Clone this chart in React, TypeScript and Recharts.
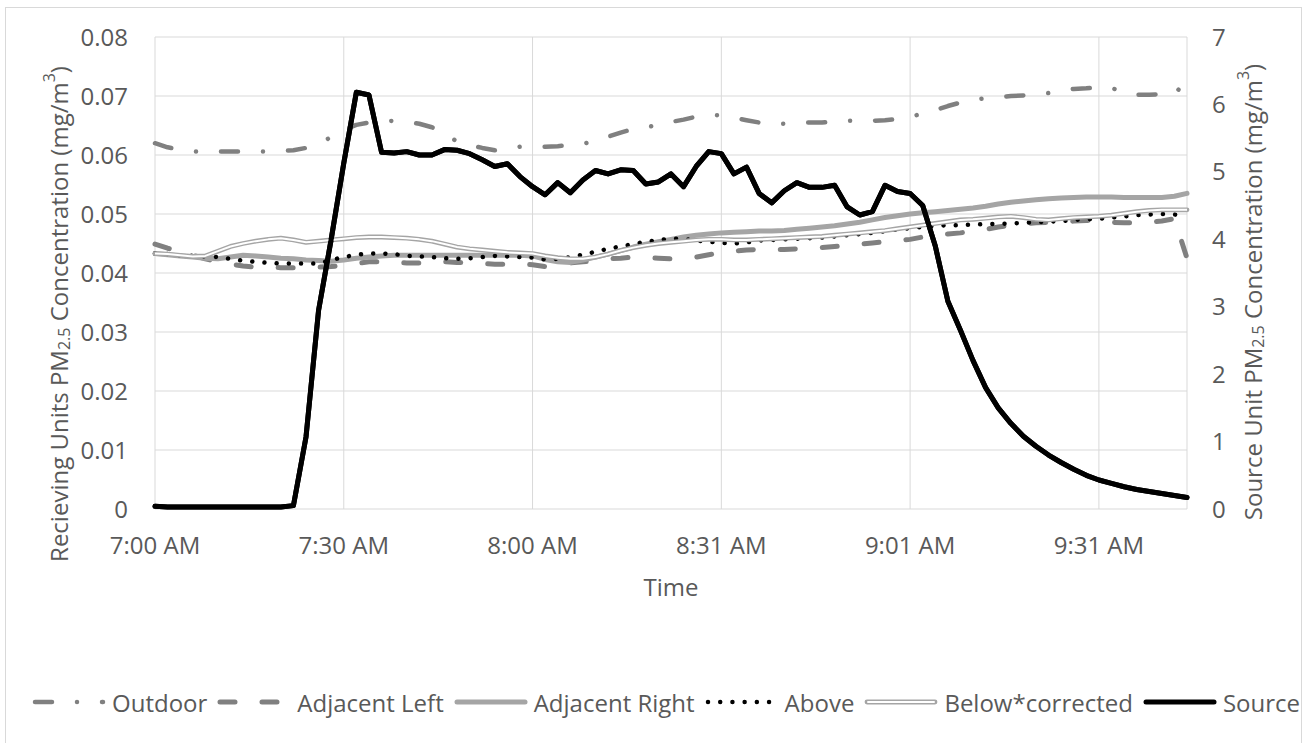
import React from 'react';
import { ComposedChart, Line, XAxis, YAxis, CartesianGrid } from 'recharts';

const FONT = '"Open Sans", "Noto Sans", sans-serif';
const TEXT = '#595959';
const GRID = '#D9D9D9';

// x axis: sample index (about 2 min apart), labels every 15 samples
const tickIndex = [0, 15, 30, 45, 60, 75];
const tickLabels = ['7:00 AM', '7:30 AM', '8:00 AM', '8:31 AM', '9:01 AM', '9:31 AM'];
const leftTicks = [0, 0.01, 0.02, 0.03, 0.04, 0.05, 0.06, 0.07, 0.08];
const rightTicks = [0, 1, 2, 3, 4, 5, 6, 7];

// receiving units, mg/m3 (left axis)
const outdoor = [
  0.062, 0.0613, 0.0609, 0.0606, 0.0605, 0.0606, 0.0606, 0.0606, 0.0606, 0.0606,
  0.0607, 0.0608, 0.0612, 0.062, 0.063, 0.0643, 0.0651, 0.0655, 0.0657, 0.0658,
  0.0656, 0.0653, 0.0647, 0.0636, 0.0623, 0.0617, 0.0612, 0.0608, 0.0611, 0.0614,
  0.0614, 0.0614, 0.0615, 0.0617, 0.0619, 0.0624, 0.0631, 0.0638, 0.0644, 0.0647,
  0.0651, 0.0656, 0.066, 0.0665, 0.0668, 0.0667, 0.0663, 0.0659, 0.0655, 0.0652,
  0.0653, 0.0655, 0.0655, 0.0655, 0.0657, 0.0658, 0.0658, 0.0658, 0.0659, 0.0661,
  0.0665, 0.067, 0.0676, 0.0683, 0.0689, 0.0694, 0.0696, 0.0698, 0.07, 0.0701,
  0.0702, 0.0705, 0.071, 0.0712, 0.0713, 0.0715, 0.0714, 0.0705, 0.0702, 0.0702,
  0.0703, 0.0703, 0.0727,
];
const adjacentLeft = [
  0.0449, 0.0442, 0.0436, 0.043, 0.0424, 0.0419, 0.0415, 0.0412, 0.041, 0.041,
  0.0409, 0.0409, 0.041, 0.041, 0.0411, 0.0413, 0.0416, 0.0419, 0.0419, 0.0418,
  0.0417, 0.0417, 0.0418, 0.0419, 0.0418, 0.0417, 0.0416, 0.0415, 0.0415, 0.0415,
  0.0414, 0.0411, 0.0413, 0.0417, 0.0419, 0.0421, 0.0424, 0.0425, 0.0427, 0.0426,
  0.0425, 0.0424, 0.0425, 0.0427, 0.0431, 0.0434, 0.0437, 0.0439, 0.044, 0.044,
  0.044, 0.0441, 0.0442, 0.0443, 0.0445, 0.0447, 0.0449, 0.0451, 0.0453, 0.0455,
  0.0457, 0.0461, 0.0464, 0.0466, 0.0468, 0.0471, 0.0474, 0.0478, 0.0481, 0.0483,
  0.0485, 0.0486, 0.0487, 0.0488, 0.0489, 0.0489, 0.0486, 0.0485, 0.0485, 0.0486,
  0.0488, 0.0492, 0.0425,
];
const adjacentRight = [
  0.0433, 0.0431, 0.0429, 0.0427, 0.0425, 0.0424, 0.0427, 0.043, 0.0429, 0.0427,
  0.0425, 0.0424, 0.0422, 0.0421, 0.042, 0.0422, 0.0425, 0.0427, 0.0429, 0.043,
  0.043, 0.043, 0.043, 0.043, 0.043, 0.043, 0.043, 0.043, 0.043, 0.043,
  0.0429, 0.0423, 0.0419, 0.0418, 0.0422, 0.0427, 0.0432, 0.0438, 0.0444, 0.0449,
  0.0453, 0.0457, 0.0461, 0.0464, 0.0466, 0.0468, 0.0469, 0.047, 0.0471, 0.0471,
  0.0472, 0.0474, 0.0476, 0.0478, 0.048, 0.0483, 0.0486, 0.049, 0.0494, 0.0497,
  0.05, 0.0502, 0.0504, 0.0506, 0.0508, 0.051, 0.0513, 0.0517, 0.052, 0.0522,
  0.0524, 0.0526, 0.0527, 0.0528, 0.0529, 0.0529, 0.0529, 0.0528, 0.0528, 0.0528,
  0.0528, 0.053, 0.0535,
];
const above = [
  0.0433, 0.0432, 0.043, 0.0429, 0.0428, 0.0427, 0.0424, 0.0421, 0.0419, 0.0417,
  0.0416, 0.0416, 0.0416, 0.0416, 0.0422, 0.0427, 0.0431, 0.0433, 0.0433, 0.0432,
  0.0429, 0.0428, 0.0427, 0.0425, 0.0424, 0.0425, 0.0427, 0.0429, 0.0428, 0.0427,
  0.0426, 0.0423, 0.0424, 0.0427, 0.0431, 0.0436, 0.0441, 0.0445, 0.0449, 0.0453,
  0.0456, 0.0458, 0.0458, 0.0455, 0.0453, 0.0451, 0.045, 0.0452, 0.0455, 0.0456,
  0.0457, 0.0458, 0.0459, 0.046, 0.0462, 0.0464, 0.0466, 0.0468, 0.0471, 0.0474,
  0.0476, 0.0478, 0.048, 0.0481, 0.0481, 0.0482, 0.0483, 0.0483, 0.0484, 0.0485,
  0.0486, 0.0487, 0.0488, 0.049, 0.0491, 0.0492, 0.0494, 0.0496, 0.0498, 0.0499,
  0.05, 0.0499, 0.0498,
];
const belowCorrected = [
  0.0433, 0.0432, 0.043, 0.0428, 0.0429, 0.0437, 0.0445, 0.045, 0.0454, 0.0457,
  0.0459, 0.0456, 0.0452, 0.0454, 0.0456, 0.0458, 0.046, 0.0461, 0.0461, 0.046,
  0.0459, 0.0457, 0.0454, 0.0449, 0.0444, 0.0441, 0.0439, 0.0437, 0.0435, 0.0434,
  0.0433, 0.0429, 0.0426, 0.0424, 0.0424, 0.0427, 0.0432, 0.0438, 0.0443, 0.0447,
  0.045, 0.0452, 0.0454, 0.0456, 0.0457, 0.0457, 0.0456, 0.0456, 0.0457, 0.0458,
  0.0459, 0.046, 0.0461, 0.0462, 0.0464, 0.0466, 0.0468, 0.047, 0.0472, 0.0475,
  0.0478, 0.0481, 0.0484, 0.0487, 0.049, 0.0491, 0.0493, 0.0495, 0.0496, 0.0494,
  0.0491, 0.049, 0.0492, 0.0494, 0.0495, 0.0496, 0.0498, 0.0501, 0.0504, 0.0506,
  0.0507, 0.0507, 0.0507,
];
// source unit, mg/m3 (right axis)
const source = [
  0.04, 0.03, 0.03, 0.03, 0.03, 0.03, 0.03, 0.03, 0.03, 0.03,
  0.03, 0.05, 1.07, 2.95, 4.0, 5.13, 6.18, 6.14, 5.29, 5.28,
  5.3, 5.25, 5.25, 5.33, 5.32, 5.27, 5.18, 5.08, 5.12, 4.93,
  4.78, 4.66, 4.84, 4.69, 4.88, 5.02, 4.97, 5.03, 5.02, 4.82,
  4.85, 4.97, 4.78, 5.08, 5.3, 5.27, 4.97, 5.07, 4.68, 4.54,
  4.72, 4.84, 4.77, 4.77, 4.8, 4.48, 4.36, 4.41, 4.8, 4.71,
  4.68, 4.5, 3.9, 3.08, 2.65, 2.2, 1.8, 1.5, 1.27, 1.08,
  0.93, 0.8, 0.69, 0.59, 0.5, 0.43, 0.38, 0.33, 0.29, 0.26,
  0.23, 0.2, 0.17,
];

const data = source.map((s, i) => ({
  i,
  outdoor: outdoor[i],
  adjacentLeft: adjacentLeft[i],
  adjacentRight: adjacentRight[i],
  above: above[i],
  below: belowCorrected[i],
  source: s,
}));

type Style = {
  key: string;
  name: string;
  color: string;
  width: number;
  dash?: string;
  axis: 'left' | 'right';
  double?: boolean;
};

const series: Style[] = [
  { key: 'outdoor', name: 'Outdoor', color: '#808080', width: 4.5, dash: '17 25 0.01 25', axis: 'left' },
  { key: 'adjacentLeft', name: 'Adjacent Left', color: '#808080', width: 5, dash: '15 27', axis: 'left' },
  { key: 'adjacentRight', name: 'Adjacent Right', color: '#A5A5A5', width: 5, axis: 'left' },
  { key: 'above', name: 'Above', color: '#000000', width: 4.5, dash: '0.01 12.2', axis: 'left' },
  { key: 'below', name: 'Below*corrected', color: '#A5A5A5', width: 4.8, axis: 'left', double: true },
  { key: 'source', name: 'Source', color: '#000000', width: 5, axis: 'right' },
];

const LeftTitle = () => (
  <text
    x={58}
    y={314}
    transform="rotate(-90 58 314)"
    textAnchor="middle"
    dominantBaseline="central"
    fill={TEXT}
    fontSize={24}
    fontFamily={FONT}
  >
    Recieving Units PM
    <tspan fontSize={16} dy={6}>2.5</tspan>
    <tspan dy={-6}> Concentration (mg/m</tspan>
    <tspan fontSize={16} dy={-9}>3</tspan>
    <tspan dy={9}>)</tspan>
  </text>
);

const RightTitle = () => (
  <text
    x={1252}
    y={292}
    transform="rotate(-90 1252 292)"
    textAnchor="middle"
    dominantBaseline="central"
    fill={TEXT}
    fontSize={24}
    fontFamily={FONT}
  >
    Source Unit PM
    <tspan fontSize={16} dy={6}>2.5</tspan>
    <tspan dy={-6}> Concentration (mg/m</tspan>
    <tspan fontSize={16} dy={-9}>3</tspan>
    <tspan dy={9}>)</tspan>
  </text>
);

const TimeTitle = () => (
  <text x={671} y={586} textAnchor="middle" dominantBaseline="central" fill={TEXT} fontSize={24} fontFamily={FONT}>
    Time
  </text>
);

function Swatch({ s }: { s: Style }) {
  return (
    <svg width={74} height={14} style={{ display: 'block', marginRight: 6 }}>
      <line
        x1={3}
        y1={7}
        x2={71}
        y2={7}
        stroke={s.color}
        strokeWidth={s.width}
        strokeDasharray={s.dash}
        strokeLinecap="round"
      />
      {s.double && <line x1={4} y1={7} x2={70} y2={7} stroke="#fff" strokeWidth={2} strokeLinecap="round" />}
    </svg>
  );
}

export default function App() {
  const tickStyle = { fill: TEXT, fontSize: 24, fontFamily: FONT };
  return (
    <div style={{ position: 'relative', width: 1312, height: 743, overflow: 'hidden', background: '#fff' }}>
      <style>{'html, body { margin: 0; overflow: hidden; }'}</style>
      <div
        style={{
          position: 'absolute',
          left: 5,
          top: 7,
          width: 1297,
          height: 760,
          border: `1px solid ${GRID}`,
          boxSizing: 'border-box',
        }}
      />
      <div style={{ position: 'absolute', left: 0, top: 0 }}>
        <ComposedChart
          width={1312}
          height={743}
          data={data}
          margin={{ top: 37, right: 0, left: 0, bottom: 154 }}
          style={{ fontFamily: FONT }}
        >
          <CartesianGrid stroke={GRID} strokeWidth={1} yAxisId="left" />
          <XAxis
            dataKey="i"
            type="number"
            domain={[0, 82]}
            ticks={tickIndex}
            interval={0}
            tickFormatter={(v: number) => tickLabels[tickIndex.indexOf(v)] ?? ''}
            axisLine={false}
            tickLine={false}
            tickSize={0}
            tickMargin={28}
            height={80}
            tick={tickStyle}
            label={<TimeTitle />}
          />
          <YAxis
            yAxisId="left"
            domain={[0, 0.08]}
            ticks={leftTicks}
            interval={0}
            tickFormatter={(v: number) => (v === 0 ? '0' : v.toFixed(2))}
            axisLine={false}
            tickLine={false}
            tickSize={0}
            tickMargin={27}
            width={155}
            tick={tickStyle}
            label={<LeftTitle />}
          />
          <YAxis
            yAxisId="right"
            orientation="right"
            domain={[0, 7]}
            ticks={rightTicks}
            interval={0}
            axisLine={false}
            tickLine={false}
            tickSize={0}
            tickMargin={25}
            width={125}
            tick={tickStyle}
            label={<RightTitle />}
          />
          {series.map((s) => (
            <Line
              key={s.key}
              yAxisId={s.axis}
              type="linear"
              dataKey={s.key}
              name={s.name}
              stroke={s.color}
              strokeWidth={s.width}
              strokeDasharray={s.dash}
              strokeLinecap="round"
              strokeLinejoin="round"
              dot={false}
              activeDot={false}
              isAnimationActive={false}
            />
          ))}
          <Line
            yAxisId="left"
            type="linear"
            dataKey="below"
            stroke="#ffffff"
            strokeWidth={2}
            strokeLinejoin="round"
            dot={false}
            activeDot={false}
            legendType="none"
            isAnimationActive={false}
          />
          <Line
            yAxisId="right"
            type="linear"
            dataKey="source"
            stroke="#000000"
            strokeWidth={5}
            strokeLinecap="round"
            strokeLinejoin="round"
            dot={false}
            activeDot={false}
            legendType="none"
            isAnimationActive={false}
          />
        </ComposedChart>
      </div>
      <div
        style={{
          position: 'absolute',
          left: 32,
          top: 685,
          width: 1268,
          height: 34,
          display: 'flex',
          justifyContent: 'center',
          alignItems: 'center',
          fontFamily: FONT,
          fontSize: 24,
          color: TEXT,
          whiteSpace: 'nowrap',
        }}
      >
        {series.map((s, idx) => (
          <div
            key={s.key}
            style={{ display: 'flex', alignItems: 'center', marginRight: idx === series.length - 1 ? 0 : 10 }}
          >
            <Swatch s={s} />
            <span>{s.name}</span>
          </div>
        ))}
      </div>
    </div>
  );
}
